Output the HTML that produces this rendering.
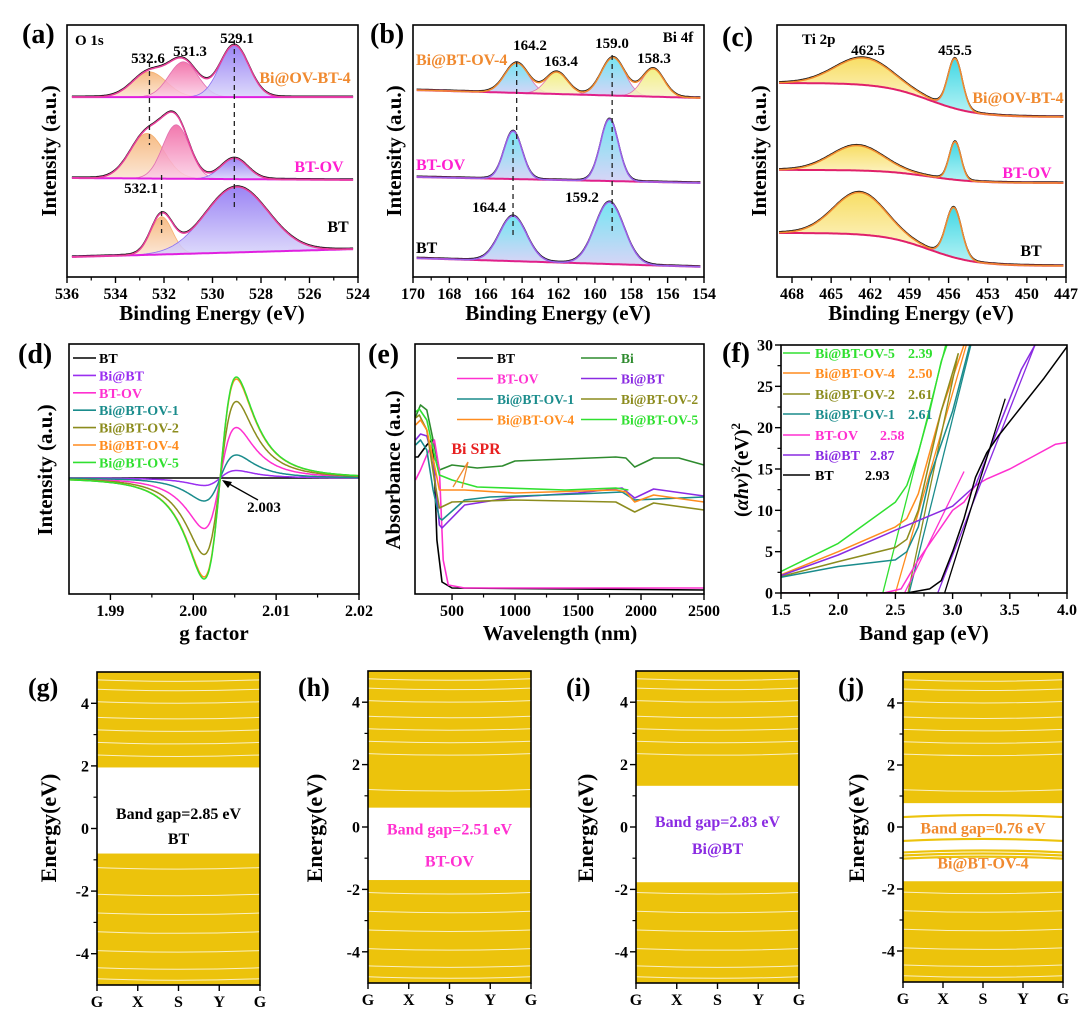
<!DOCTYPE html>
<html><head><meta charset="utf-8"><title>XPS EPR UV DFT figure</title>
<style>
html,body{margin:0;padding:0;background:#fff;}
svg{display:block;font-family:"Liberation Serif",serif;font-weight:bold;}
</style></head>
<body>
<svg id="fig" width="1080" height="1016" viewBox="0 0 1080 1016" xmlns="http://www.w3.org/2000/svg">
<defs>
 <linearGradient id="g-orange" x1="0" y1="0" x2="0" y2="1"><stop offset="0" stop-color="#f5b070"/><stop offset="1" stop-color="#fbe3cf"/></linearGradient>
 <linearGradient id="g-pink" x1="0" y1="0" x2="0" y2="1"><stop offset="0" stop-color="#f0609f"/><stop offset="1" stop-color="#fbd0e6"/></linearGradient>
 <linearGradient id="g-purple" x1="0" y1="0" x2="0" y2="1"><stop offset="0" stop-color="#8a6ff2"/><stop offset="1" stop-color="#d8d4fb"/></linearGradient>
 <linearGradient id="g-cyan" x1="0" y1="0" x2="0" y2="1"><stop offset="0" stop-color="#5ee0f0"/><stop offset="1" stop-color="#d0cdf5"/></linearGradient>
 <linearGradient id="g-yellow" x1="0" y1="0" x2="0" y2="1"><stop offset="0" stop-color="#f0ee70"/><stop offset="1" stop-color="#f8f2c8"/></linearGradient>
 <linearGradient id="g-gold" x1="0" y1="0" x2="0" y2="1"><stop offset="0" stop-color="#f6d84a"/><stop offset="1" stop-color="#fdf3c4"/></linearGradient>
 <linearGradient id="g-teal" x1="0" y1="0" x2="0" y2="1"><stop offset="0" stop-color="#20d0e0"/><stop offset="1" stop-color="#a8f0f2"/></linearGradient>
</defs>
<!-- panel labels -->
<text x="22" y="43" font-size="28">(a)</text>
<text x="370" y="43" font-size="28">(b)</text>
<text x="722" y="46" font-size="28">(c)</text>
<text x="18" y="363" font-size="28">(d)</text>
<text x="368" y="363" font-size="28">(e)</text>
<text x="722" y="362" font-size="28">(f)</text>
<text x="28" y="696" font-size="26">(g)</text>
<text x="298" y="696" font-size="26">(h)</text>
<text x="566" y="696" font-size="26">(i)</text>
<text x="838" y="696" font-size="26">(j)</text>
<!-- axis titles -->
<text x="212" y="320" font-size="21" text-anchor="middle">Binding Energy (eV)</text>
<text x="558" y="320" font-size="21" text-anchor="middle">Binding Energy (eV)</text>
<text x="921" y="320" font-size="21" text-anchor="middle">Binding Energy (eV)</text>
<text x="214" y="640" font-size="21" text-anchor="middle">g factor</text>
<text x="560" y="640" font-size="21" text-anchor="middle">Wavelength (nm)</text>
<text x="924" y="640" font-size="21" text-anchor="middle">Band gap (eV)</text>
<text transform="translate(56,151) rotate(-90)" font-size="21" text-anchor="middle">Intensity (a.u.)</text>
<text transform="translate(401,151) rotate(-90)" font-size="21" text-anchor="middle">Intensity (a.u.)</text>
<text transform="translate(766,151) rotate(-90)" font-size="21" text-anchor="middle">Intensity (a.u.)</text>
<text transform="translate(52,470) rotate(-90)" font-size="21" text-anchor="middle">Intensity (a.u.)</text>
<text transform="translate(400,470) rotate(-90)" font-size="21" text-anchor="middle">Absorbance (a.u.)</text>
<text transform="translate(748,470) rotate(-90)" font-size="20" text-anchor="middle">(<tspan font-style="italic">αhv</tspan>)<tspan font-size="13" dy="-8">2</tspan><tspan dy="8">(eV)</tspan><tspan font-size="13" dy="-8">2</tspan></text>
<text transform="translate(56,828) rotate(-90)" font-size="22" text-anchor="middle">Energy(eV)</text>
<text transform="translate(322,828) rotate(-90)" font-size="22" text-anchor="middle">Energy(eV)</text>
<text transform="translate(593,828) rotate(-90)" font-size="22" text-anchor="middle">Energy(eV)</text>
<text transform="translate(864,828) rotate(-90)" font-size="22" text-anchor="middle">Energy(eV)</text>
</svg>
<script>
// ---------- data (a) O 1s ----------
const aBaseL=[71.4,39.3,7.9];
const aBaseR=[71.4,38.5,11.1];
const aCenters=[[532.6,531.2,529.1],[532.7,531.5,529.1],[532.1,529.0]];
const aHeights=[[10,14,20.6],[17.9,21.4,8.3],[15,26]];
const aWidths=[[0.7,0.6,0.6],[0.7,0.55,0.55],[0.45,1.3]];
const aFills=[['g-orange','g-pink','g-purple'],['g-orange','g-pink','g-purple'],['g-orange','g-purple']];
const aTicks=[536,534,532,530,528,526,524];
// ---------- data (b) Bi 4f ----------
const bBaseL=[74.2,39.7,7.5];
const bBaseR=[71.0,37.3,4.0];
const bCenters=[[164.3,162.1,159.0,156.8],[164.5,159.2],[164.5,159.2]];
const bHeights=[[11.9,8.7,15.1,11.1],[19.0,24.6],[17.9,24.6]];
const bWidths=[[0.65,0.6,0.65,0.6],[0.5,0.5],[0.75,0.8]];
const bFills=[['g-cyan','g-yellow','g-cyan','g-yellow'],['g-cyan','g-cyan'],['g-cyan','g-cyan']];
const bTicks=[170,168,166,164,162,160,158,156,154];
// ---------- data (c) Ti 2p ----------
const cBaseHi=[77.0,42.5,17.5];
const cBaseLo=[63.5,37.3,4.4];
const cCenters=[[462.5,455.5],[463.0,455.5],[462.8,455.6]];
const cHeights=[[10.7,19.8],[9.9,15.1],[16.7,19.8]];
const cWidths=[[2.2,0.55],[2.0,0.45],[2.0,0.6]];
const cFills=[['g-gold','g-teal'],['g-gold','g-teal'],['g-gold','g-teal']];
const cTicks=[468,465,462,459,456,453,450,447];
// ---------- data (d) EPR ----------
const dNames=['BT','Bi@BT','BT-OV','Bi@BT-OV-1','Bi@BT-OV-2','Bi@BT-OV-4','Bi@BT-OV-5'];
const dColors=['#000000','#9a2ff0','#ff30d0','#1a8c8c','#8c8c1e','#ff8c1e','#30e030'];
const dAmps=[0,7.5,50.5,23,76.5,99,101];
const dCenter=[2.00325];
const dWidth=[0.00338];
const dTicks=[1.99,2.00,2.01,2.02];
const dTickLabels=['1.99','2.00','2.01','2.02'];
// ---------- data (e) UV-vis ----------
const eNames=['BT','Bi','BT-OV','Bi@BT','Bi@BT-OV-1','Bi@BT-OV-2','Bi@BT-OV-4','Bi@BT-OV-5'];
const eColors=['#000000','#2e8b2e','#ff30d0','#8a2be2','#1a8c8c','#8c8c1e','#ff8c1e','#30e030'];
const eWl=[
 [210,230,300,340,360,380,420,500,2500],
 [210,250,300,350,400,500,700,900,1000,1800,1880,1950,2100,2300,2500],
 [210,250,300,360,400,430,470,600,2500],
 [210,250,300,350,400,420,600,1000,1500,1850,1950,2100,2500],
 [210,250,300,350,400,420,600,800,1500,1850,1950,2500],
 [210,240,300,360,400,500,1000,1800,1950,2100,2500],
 [210,250,300,360,400,600,1000,1800,1880,1950,2100,2500],
 [210,240,300,360,400,500,700,1400,1800,1900]
];
const eAbs=[
 [54.8,54.8,59.6,61.6,49.6,21.6,4.8,2.4,1.6],
 [70.8,75.6,73.6,61.6,49.6,51.6,50.4,51.2,53.2,54.8,54.4,50.8,54.4,54.4,51.6],
 [45.6,49.6,55.6,61.6,49.6,13.6,3.6,2.4,2.4],
 [61.6,64,63.2,53.6,27.6,26.4,35.6,38.8,40.4,42.4,38.4,42,39.2],
 [59.6,61.6,57.6,41.6,30.4,29.6,37.6,38.8,40,40.8,37.6,38.8],
 [70.4,71.6,65.6,45.6,34.4,36.8,37.6,36.8,32.8,36.4,33.6],
 [67.6,69.6,65.6,51.6,41.6,41.6,40.4,41.6,40.8,36.8,39.6,36.8],
 [72.8,74,69.6,55.6,47.6,45.6,42.8,41.6,42.4,41.6]
];
const eTicks=[500,1000,1500,2000,2500];
// ---------- data (f) Tauc ----------
const fNames=['Bi@BT-OV-5','Bi@BT-OV-4','Bi@BT-OV-2','Bi@BT-OV-1','BT-OV','Bi@BT','BT'];
const fGaps=['2.39','2.50','2.61','2.61','2.58','2.87','2.93'];
const fColors=['#30e030','#ff8c1e','#8c8c1e','#1a8c8c','#ff30d0','#8a2be2','#000000'];
const fX=[
 [1.5,2.0,2.5,2.6,2.7,2.8,2.9,2.95],
 [1.5,2.0,2.5,2.6,2.7,2.8,2.9,3.0,3.1],
 [1.5,2.0,2.5,2.6,2.7,2.8,2.9,3.05],
 [1.5,2.0,2.5,2.6,2.7,2.8,3.0,3.15],
 [1.5,2.4,2.55,2.7,2.9,3.0,3.1,3.2,3.3,3.5,3.7,3.9,4.0],
 [1.5,2.0,2.5,3.0,3.2,3.4,3.6,3.72],
 [1.5,2.6,2.8,2.9,3.0,3.1,3.2,3.3,3.4,3.6,3.8,4.0]
];
const fY=[
 [2.6,6,11,13,17,22,28,30],
 [2.2,5,8,9,12,17,22,26,30],
 [2,3.8,5.5,6.5,10,16,22,29],
 [1.9,3.2,4,5,8,14,22,30],
 [0,0,0.5,4,8,10,11,13,13.8,15,16.5,18,18.2],
 [2.1,4.6,7.6,10.5,13,20,27,30],
 [0,0,0.5,1.5,5,9,14,17,19,22.5,26,29.8]
];
const fTanX0=[2.39,2.50,2.61,2.62,2.58,2.87,2.93];
const fTanX1=[2.94,3.12,3.05,3.16,3.10,3.72,3.46];
const fTanY1=[30,30,29,30,14.7,30,23.5];
const fXTicks=[1.5,2.0,2.5,3.0,3.5,4.0];
const fXTickLabels=['1.5','2.0','2.5','3.0','3.5','4.0'];
const fYTicks=[0,5,10,15,20,25,30];
// ---------- data (g-j) band structures ----------
const bandPanels=['g','h','i','j'];
const bandCBM=[1.95,0.62,1.32,0.77];
const bandVBM=[-0.8,-1.7,-1.77,-1.75];
const bandGapText=['Band gap=2.85 eV','Band gap=2.51 eV','Band gap=2.83 eV','Band gap=0.76 eV'];
const bandNameText=['BT','BT-OV','Bi@BT','Bi@BT-OV-4'];
const bandTextColor=['#000000','#ff30d0','#8a2be2','#f08a30'];
const bandGapTextE=[0.5,-0.05,0.2,-0.02];
const bandNameTextE=[-0.3,-1.08,-0.67,-1.15];
const bandMid=[[],[],[],[0.32,-0.45,-0.82,-0.92,-1.02]];
const bandStreaks=[4.75,4.45,4.05,3.55,3.15,2.75,2.35,1.2,-1.25,-2.1,-2.7,-3.3,-3.9,-4.45,-4.8];
const bandYTicks=[-4,-2,0,2,4];
const bandKLabels=['G','X','S','Y','G'];

// ---------- helpers ----------
const NS='http://www.w3.org/2000/svg';
const svg=document.getElementById('fig');
function mk(tag,a,parent){const e=document.createElementNS(NS,tag);for(const k in a)e.setAttribute(k,a[k]);(parent||svg).appendChild(e);return e;}
function lin(d0,d1,p0,p1){return v=>p0+(v-d0)/(d1-d0)*(p1-p0);}
function gauss(x,c,h,s){return h*Math.exp(-(x-c)*(x-c)/(2*s*s));}
function pathD(pts){return pts.map((p,i)=>(i?'L':'M')+p[0].toFixed(1)+' '+p[1].toFixed(1)).join('');}
function frame(box,name){
 const r=mk('rect',{x:box[0],y:box[1],width:box[2]-box[0],height:box[3]-box[1],fill:'none',stroke:'#000','stroke-width':1.6});
 
 
}
function xAxis(box,sx,ticks,labels,minorStep,name){
 const g=mk('g',{});
 
 
 ticks.forEach((t,i)=>{
  const x=sx(t);
  mk('line',{x1:x,x2:x,y1:box[3],y2:box[3]+6,stroke:'#000','stroke-width':1.4},g);
  const tx=mk('text',{x:x,y:box[3]+22,'font-size':16,'text-anchor':'middle'},g);
  tx.textContent=labels?labels[i]:String(t);
  if(minorStep&&i<ticks.length-1){const m=sx(t+minorStep*(ticks[1]>ticks[0]?1:-1));mk('line',{x1:m,x2:m,y1:box[3],y2:box[3]+3.5,stroke:'#000','stroke-width':1.2},g);}
 });
}
function yAxis(box,sy,ticks,labels,minorStep,name){
 const g=mk('g',{});
 
 
 ticks.forEach((t,i)=>{
  const y=sy(t);
  mk('line',{x1:box[0]-6,x2:box[0],y1:y,y2:y,stroke:'#000','stroke-width':1.4},g);
  const tx=mk('text',{x:box[0]-8,y:y+5.5,'font-size':16,'text-anchor':'end'},g);
  tx.textContent=labels?labels[i]:String(t);
  if(minorStep&&i<ticks.length-1){const m=sy(t+minorStep);mk('line',{x1:box[0]-3.5,x2:box[0],y1:m,y2:m,stroke:'#000','stroke-width':1.2},g);}
 });
}
function label(x,y,txt,size,color,anchor,name){
 const t=mk('text',{x:x,y:y,'font-size':size,fill:color,'text-anchor':anchor||'start'});
 t.textContent=txt;
 
 
 return t;
}
function dashed(x,y1,y2,name){
 const l=mk('line',{x1:x,x2:x,y1:y1,y2:y2,stroke:'#222','stroke-width':1.3,'stroke-dasharray':'5,4'});
 
 
}

// ---------- XPS drawing ----------
function drawXPS(pid,box,xd,baseFn,centers,heights,widths,fills,envColor,baseColor,xStart,xEnd){
 const sx=lin(xd[0],xd[1],box[0],box[2]);
 const sy=lin(0,100,box[3],box[1]);
 const n=220;
 centers.forEach((cs,i)=>{
  const g=mk('g',{});
  
  
  const xs=[];for(let k=0;k<=n;k++)xs.push(xStart+(xEnd-xStart)*k/n);
  cs.forEach((c,j)=>{
   const top=[],bot=[];
   xs.forEach(x=>{const b=baseFn(i,x);const v=gauss(x,c,heights[i][j],widths[i][j]);if(v>0.15){top.push([sx(x),sy(b+v)]);bot.push([sx(x),sy(b)]);}});
   const p=mk('path',{d:pathD(top.concat(bot.reverse()))+'Z',fill:'url(#'+fills[i][j]+')','fill-opacity':0.85,stroke:fills[i][j]==='g-purple'?'#8a6ff2':(fills[i][j]==='g-orange'?'#f5b070':'#e070b0'),'stroke-width':0.8},g);
   
   
  });
  const env=xs.map(x=>{let s=baseFn(i,x);cs.forEach((c,j)=>s+=gauss(x,c,heights[i][j],widths[i][j]));return [sx(x),sy(s)];});
  const raw=mk('path',{d:pathD(env.map(p=>[p[0],p[1]-1])),fill:'none',stroke:'#111','stroke-width':1.2},g);
  
  
  const base=mk('path',{d:pathD(xs.map(x=>[sx(x),sy(baseFn(i,x))])),fill:'none',stroke:baseColor,'stroke-width':2},g);
  
  
  const e=mk('path',{d:pathD(env),fill:'none',stroke:typeof envColor==='string'?envColor:envColor[i],'stroke-width':1.6},g);
  
  
 });
 return {sx,sy};
}

// (a)
const boxA=[67,25,358,277];
const A=drawXPS('o1s',boxA,[536,524],(i,x)=>aBaseL[i]+(aBaseR[i]-aBaseL[i])*(536-x)/12,aCenters,aHeights,aWidths,aFills,'#e8409a','#e020e0',535.8,524.2);
frame(boxA,'plot-frame-a');
xAxis(boxA,A.sx,aTicks,null,1,'x-axis-a');
dashed(A.sx(529.1),40,210,'dash-529-1');
dashed(A.sx(532.6),62,145,'dash-532-6');
dashed(A.sx(532.1),175,233,'dash-532-1');
label(75,45,'O 1s',15,'#000','start','core-level-label-a');
label(148,63,'532.6',15,'#000','middle','peak-label-532-6');
label(190,56,'531.3',15,'#000','middle','peak-label-531-3');
label(237,43,'529.1',15,'#000','middle','peak-label-529-1');
label(141,193,'532.1',15,'#000','middle','peak-label-532-1');
label(305,83,'Bi@OV-BT-4',16,'#f08a30','middle','trace-label-a-top');
label(319,172,'BT-OV',16,'#ff20d0','middle','trace-label-a-mid');
label(338,232,'BT',16,'#000','middle','trace-label-a-bot');

// (b)
const boxB=[413,25,704,277];
const B=drawXPS('bi4f',boxB,[170,154],(i,x)=>bBaseL[i]+(bBaseR[i]-bBaseL[i])*(170-x)/16,bCenters,bHeights,bWidths,bFills,['#f08a30','#9a60e8','#9a60e8'],'#e0208a',169.8,154.2);
frame(boxB,'plot-frame-b');
xAxis(boxB,B.sx,bTicks,null,1,'x-axis-b');
dashed(B.sx(164.3),62,140,'dash-164-2');
dashed(B.sx(164.5),140,238,'dash-164-4');
dashed(B.sx(159.05),55,232,'dash-159');
label(678,42,'Bi 4f',15,'#000','middle','core-level-label-b');
label(530,50,'164.2',15,'#000','middle','peak-label-164-2');
label(561,66,'163.4',15,'#000','middle','peak-label-163-4');
label(612,48,'159.0',15,'#000','middle','peak-label-159-0');
label(654,63,'158.3',15,'#000','middle','peak-label-158-3');
label(489,212,'164.4',15,'#000','middle','peak-label-164-4');
label(582,202,'159.2',15,'#000','middle','peak-label-159-2');
label(416,65,'Bi@BT-OV-4',16,'#f08a30','start','trace-label-b-top');
label(416,170,'BT-OV',16,'#ff20d0','start','trace-label-b-mid');
label(416,253,'BT',16,'#000','start','trace-label-b-bot');

// (c)
const boxC=[777,25,1066,277];
const cBase=(i,x)=>cBaseLo[i]+(cBaseHi[i]-cBaseLo[i])/(1+Math.exp(-(x-457.5)/1.8));
const C=drawXPS('ti2p',boxC,[469.15,447],cBase,cCenters,cHeights,cWidths,cFills,'#f08a30','#e0206a',469,447.2);
frame(boxC,'plot-frame-c');
xAxis(boxC,C.sx,cTicks,null,1.5,'x-axis-c');
label(802,44,'Ti 2p',15,'#000','start','core-level-label-c');
label(868,55,'462.5',15,'#000','middle','peak-label-462-5');
label(955,55,'455.5',15,'#000','middle','peak-label-455-5');
label(1018,103,'Bi@OV-BT-4',16,'#f08a30','middle','trace-label-c-top');
label(1027,178,'BT-OV',16,'#ff20d0','middle','trace-label-c-mid');
label(1031,256,'BT',16,'#000','middle','trace-label-c-bot');

// (d) EPR
const boxD=[69,344,359,594];
const dsx=lin(1.985,2.02,boxD[0],boxD[2]);
const dsy=lin(0,100,478,378);
dNames.forEach((nm,i)=>{
 const pts=[];
 for(let k=0;k<=300;k++){const x=1.985+0.035*k/300;const u=(x-dCenter[0])/dWidth[0];const v=dAmps[i]*(2*u/Math.pow(1+u*u,2))/0.6495;pts.push([dsx(x),dsy(v)]);}
 const p=mk('path',{d:pathD(pts),fill:'none',stroke:dColors[i],'stroke-width':1.5});
 
 
 const ly=358+i*17.4;
 const ll=mk('line',{x1:73,x2:96,y1:ly,y2:ly,stroke:dColors[i],'stroke-width':1.6});
 
 
 label(99,ly+5,nm,14,dColors[i]==='#000000'?'#000':dColors[i],'start','legend-entry-d-'+nm);
});
frame(boxD,'plot-frame-d');
xAxis(boxD,dsx,dTicks,dTickLabels,0.005,'x-axis-d');
const arr=mk('line',{x1:258,y1:500,x2:224,y2:481,stroke:'#000','stroke-width':1.3});


const ah=mk('path',{d:'M222 480 L232 482 L228 488 Z',fill:'#000'});


label(264,512,'2.003',15,'#000','middle','g-value-label');

// (e) UV-vis
const boxE=[415,344,704,594];
const esx=lin(206,2500,boxE[0],boxE[2]);
const esy=lin(0,100,594,344);
eNames.forEach((nm,i)=>{
 const p=mk('path',{d:pathD(eWl[i].map((w,k)=>[esx(w),esy(eAbs[i][k])])),fill:'none',stroke:eColors[i],'stroke-width':1.6,'stroke-linejoin':'round'});
 
 
 const col=i%2,row=Math.floor(i/2);
 const lx=col?581:457, ly=358+row*20.5;
 const ll=mk('line',{x1:lx,x2:lx+36,y1:ly,y2:ly,stroke:eColors[i],'stroke-width':1.6});
 
 
 label(lx+40,ly+5,nm,13.5,eColors[i],'start','legend-entry-e-'+nm);
});
frame(boxE,'plot-frame-e');
xAxis(boxE,esx,eTicks,null,250,'x-axis-e');
label(476,454,'Bi SPR',16,'#e82020','middle','bi-spr-label');
const spr=mk('path',{d:'M468 462 L453 487 M468 462 L462 488',fill:'none',stroke:'#f08a30','stroke-width':1.3});



// (f) Tauc
const boxF=[781,345,1067,593];
const fsx=lin(1.5,4.0,boxF[0],boxF[2]);
const fsy=lin(0,30,boxF[3],boxF[1]);
const clipF=mk('clipPath',{id:'clipF'});
mk('rect',{x:boxF[0],y:boxF[1],width:boxF[2]-boxF[0],height:boxF[3]-boxF[1]},clipF);
const gF=mk('g',{'clip-path':'url(#clipF)'});


fNames.forEach((nm,i)=>{
 const p=mk('path',{d:pathD(fX[i].map((x,k)=>[fsx(x),fsy(fY[i][k])])),fill:'none',stroke:fColors[i],'stroke-width':1.5,'stroke-linejoin':'round'},gF);
 
 
 const t=mk('line',{x1:fsx(fTanX0[i]),y1:fsy(0),x2:fsx(fTanX1[i]),y2:fsy(fTanY1[i]),stroke:fColors[i],'stroke-width':1.3},gF);
 
 
 const ly=[353,373,394,414,435,455,475][i];
 const ll=mk('line',{x1:783,x2:810,y1:ly,y2:ly,stroke:fColors[i],'stroke-width':1.6});
 
 
 const gx=(nm==='BT-OV')?880:(nm==='Bi@BT'?870:(nm==='BT'?865:908));
 label(815,ly+5,nm,14,fColors[i],'start','legend-entry-f-'+nm);
 label(gx,ly+5,fGaps[i],14,fColors[i],'start','legend-gap-f-'+nm);
});
frame(boxF,'plot-frame-f');
xAxis(boxF,fsx,fXTicks,fXTickLabels,0.25,'x-axis-f');
yAxis(boxF,fsy,fYTicks,null,2.5,'y-axis-f');

// (g-j) band structures
const bandBoxes=[[97,672,260,985],[368,671,531,983],[636,671,799,983],[903,672,1063,982]];
bandPanels.forEach((pn,i)=>{
 const box=bandBoxes[i];
 const sy=lin(-5,5,box[3],box[1]);
 const g=mk('g',{});
 
 
 const w=box[2]-box[0];
 const cb=mk('rect',{x:box[0],y:box[1],width:w,height:sy(bandCBM[i])-box[1],fill:'#ecc30c'},g);
 
 
 const vb=mk('rect',{x:box[0],y:sy(bandVBM[i]),width:w,height:box[3]-sy(bandVBM[i]),fill:'#ecc30c'},g);
 
 
 bandStreaks.forEach(e=>{
  if(e>bandCBM[i]+0.05||e<bandVBM[i]-0.05){
   const y=sy(e);
   const s=mk('path',{d:'M'+box[0]+' '+y+' Q'+(box[0]+w*0.5)+' '+(y+3)+' '+box[2]+' '+y,fill:'none',stroke:'#fff','stroke-width':1,'stroke-opacity':0.75},g);
   
   
  }
 });
 bandMid[i].forEach(e=>{
  const y=sy(e);
  const m=mk('path',{d:'M'+box[0]+' '+y+' Q'+(box[0]+w*0.5)+' '+(y-4)+' '+box[2]+' '+y,fill:'none',stroke:'#ecc30c','stroke-width':2.2},g);
  
  
 });
 frame(box,'plot-frame-'+pn);
 yAxis(box,sy,bandYTicks,null,1,'y-axis-'+pn);
 const ksx=lin(0,4,box[0],box[2]);
 const kg=mk('g',{});
 
 
 bandKLabels.forEach((k,j)=>{
  const x=ksx(j);
  mk('line',{x1:x,x2:x,y1:box[3],y2:box[3]+6,stroke:'#000','stroke-width':1.4},kg);
  const t=mk('text',{x:x,y:box[3]+22,'font-size':16,'text-anchor':'middle'},kg);
  t.textContent=k;
 });
 const cx=(box[0]+box[2])/2;
 label(cx,sy(bandGapTextE[i])+6,bandGapText[i],16,bandTextColor[i],'middle','band-gap-label-'+pn);
 label(cx,sy(bandNameTextE[i])+6,bandNameText[i],16,bandTextColor[i],'middle','sample-label-'+pn);
});
</script>
</body></html>
